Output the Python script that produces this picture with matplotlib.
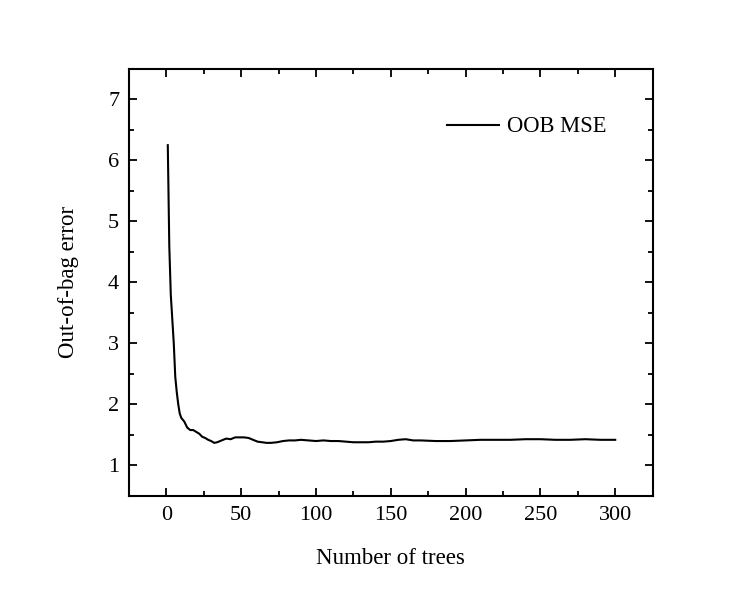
import matplotlib

matplotlib.use("Agg")
import matplotlib.pyplot as plt
from matplotlib.ticker import MultipleLocator

# out-of-bag MSE
n_trees = [1, 2, 3, 4, 5, 6, 7, 8, 9, 10, 12, 14, 16, 18, 20, 22, 24, 26, 28, 30,
           32, 34, 36, 38, 40, 43, 46, 49, 52, 55, 58, 61, 64, 67, 70, 74, 78, 82,
           86, 90, 95, 100, 105, 110, 115, 120, 125, 130, 135, 140, 145, 150, 155,
           160, 165, 170, 180, 190, 200, 210, 220, 230, 240, 250, 260, 270, 280,
           290, 300]
oob_mse = [6.25, 4.6, 3.8, 3.4, 3.0, 2.45, 2.2, 2.0, 1.85, 1.78, 1.72, 1.62, 1.58,
           1.58, 1.55, 1.52, 1.47, 1.45, 1.42, 1.40, 1.37, 1.38, 1.40, 1.42, 1.44,
           1.43, 1.46, 1.46, 1.46, 1.45, 1.42, 1.39, 1.38, 1.37, 1.37, 1.38, 1.40,
           1.41, 1.41, 1.42, 1.41, 1.40, 1.41, 1.40, 1.40, 1.39, 1.38, 1.38, 1.38,
           1.39, 1.39, 1.40, 1.42, 1.43, 1.41, 1.41, 1.40, 1.40, 1.41, 1.42, 1.42,
           1.42, 1.43, 1.43, 1.42, 1.42, 1.43, 1.42, 1.42]

plt.rcParams["font.family"] = ["Liberation Serif", "DejaVu Serif"]
plt.rcParams["font.size"] = 16

fig = plt.figure(figsize=(7.45, 5.89), dpi=100)
ax = fig.add_axes([0.173, 0.158, 0.703, 0.725])

ax.plot(n_trees, oob_mse, color="black", lw=1.5, label="OOB MSE")

ax.set_xlim(-25, 325)
ax.set_ylim(0.5, 7.5)
ax.xaxis.set_major_locator(MultipleLocator(50))
ax.xaxis.set_minor_locator(MultipleLocator(25))
ax.yaxis.set_major_locator(MultipleLocator(1))
ax.yaxis.set_minor_locator(MultipleLocator(0.5))
ax.tick_params(which="both", direction="in", top=True, right=True, width=1.3)
ax.tick_params(which="major", length=6, labelsize=16, pad=7)
ax.tick_params(which="minor", length=3.5)
for s in ax.spines.values():
    s.set_linewidth(1.5)

ax.set_xlabel("Number of trees", fontsize=16.5, labelpad=17)
ax.set_ylabel("Out-of-bag error", fontsize=16.5, labelpad=21)

ax.legend(loc="center left", frameon=False, fontsize=16.3, handlelength=2.3,
          handletextpad=0.35, borderpad=0, borderaxespad=0,
          bbox_to_anchor=(0.607, 0.864))

fig.savefig("out.png", dpi=100)
plt.close(fig)
